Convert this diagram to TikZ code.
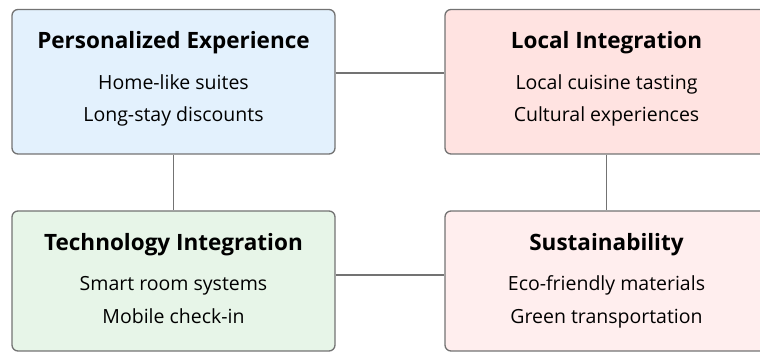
\documentclass[tikz,border=0pt]{standalone}
\usepackage{fontspec}
\setmainfont{Open Sans}
\begin{document}
\begin{tikzpicture}[x=1pt,y=-1pt,
  card/.style={draw=black!55,line width=1.3pt,rounded corners=6pt,minimum width=323pt,inner sep=0pt},
  title/.style={anchor=base,font=\fontsize{22.5}{26}\selectfont\bfseries,text=black},
  item/.style={anchor=base,font=\fontsize{19.5}{23}\selectfont,text=black},
  link/.style={draw=black!55,line width=1.3pt}]
\definecolor{pblue}{HTML}{E3F1FD}
\definecolor{pred}{HTML}{FFE3E1}
\definecolor{pgreen}{HTML}{E7F5E8}
\definecolor{ppink}{HTML}{FFEEEE}
\useasboundingbox (0,0) rectangle (760,352);
% four cards
\node[card,fill=pblue,minimum height=144.5pt] (tl) at (173.5,81.75) {};
\node[card,fill=pred,minimum height=144.5pt] (tr) at (606.5,81.75) {};
\node[card,fill=pgreen,minimum height=140pt] (bl) at (173.5,281) {};
\node[card,fill=ppink,minimum height=140pt] (br) at (606.5,281) {};
% connectors
\draw[link] ([yshift=8.75pt]tl.east) -- ([yshift=8.75pt]tr.west);
\draw[link] ([yshift=6pt]bl.east) -- ([yshift=6pt]br.west);
\draw[link] (tl.south) -- (bl.north);
\draw[link] (tr.south) -- (br.north);
% texts
\node[title] (tlt) at (173.5,49) {Personalized Experience};
\node[item] (tla) at (173.5,89.5) {Home-like suites};
\node[item] (tlb) at (173.5,122) {Long-stay discounts};
\node[title] (trt) at (606.5,49) {Local Integration};
\node[item] (tra) at (606.5,89.5) {Local cuisine tasting};
\node[item] (trb) at (606.5,122) {Cultural experiences};
\node[title] (blt) at (173.5,251) {Technology Integration};
\node[item] (bla) at (173.5,291) {Smart room systems};
\node[item] (blb) at (173.5,323.5) {Mobile check-in};
\node[title] (brt) at (606.5,251) {Sustainability};
\node[item] (bra) at (606.5,291) {Eco-friendly materials};
\node[item] (brb) at (606.5,323.5) {Green transportation};
\end{tikzpicture}
\end{document}
